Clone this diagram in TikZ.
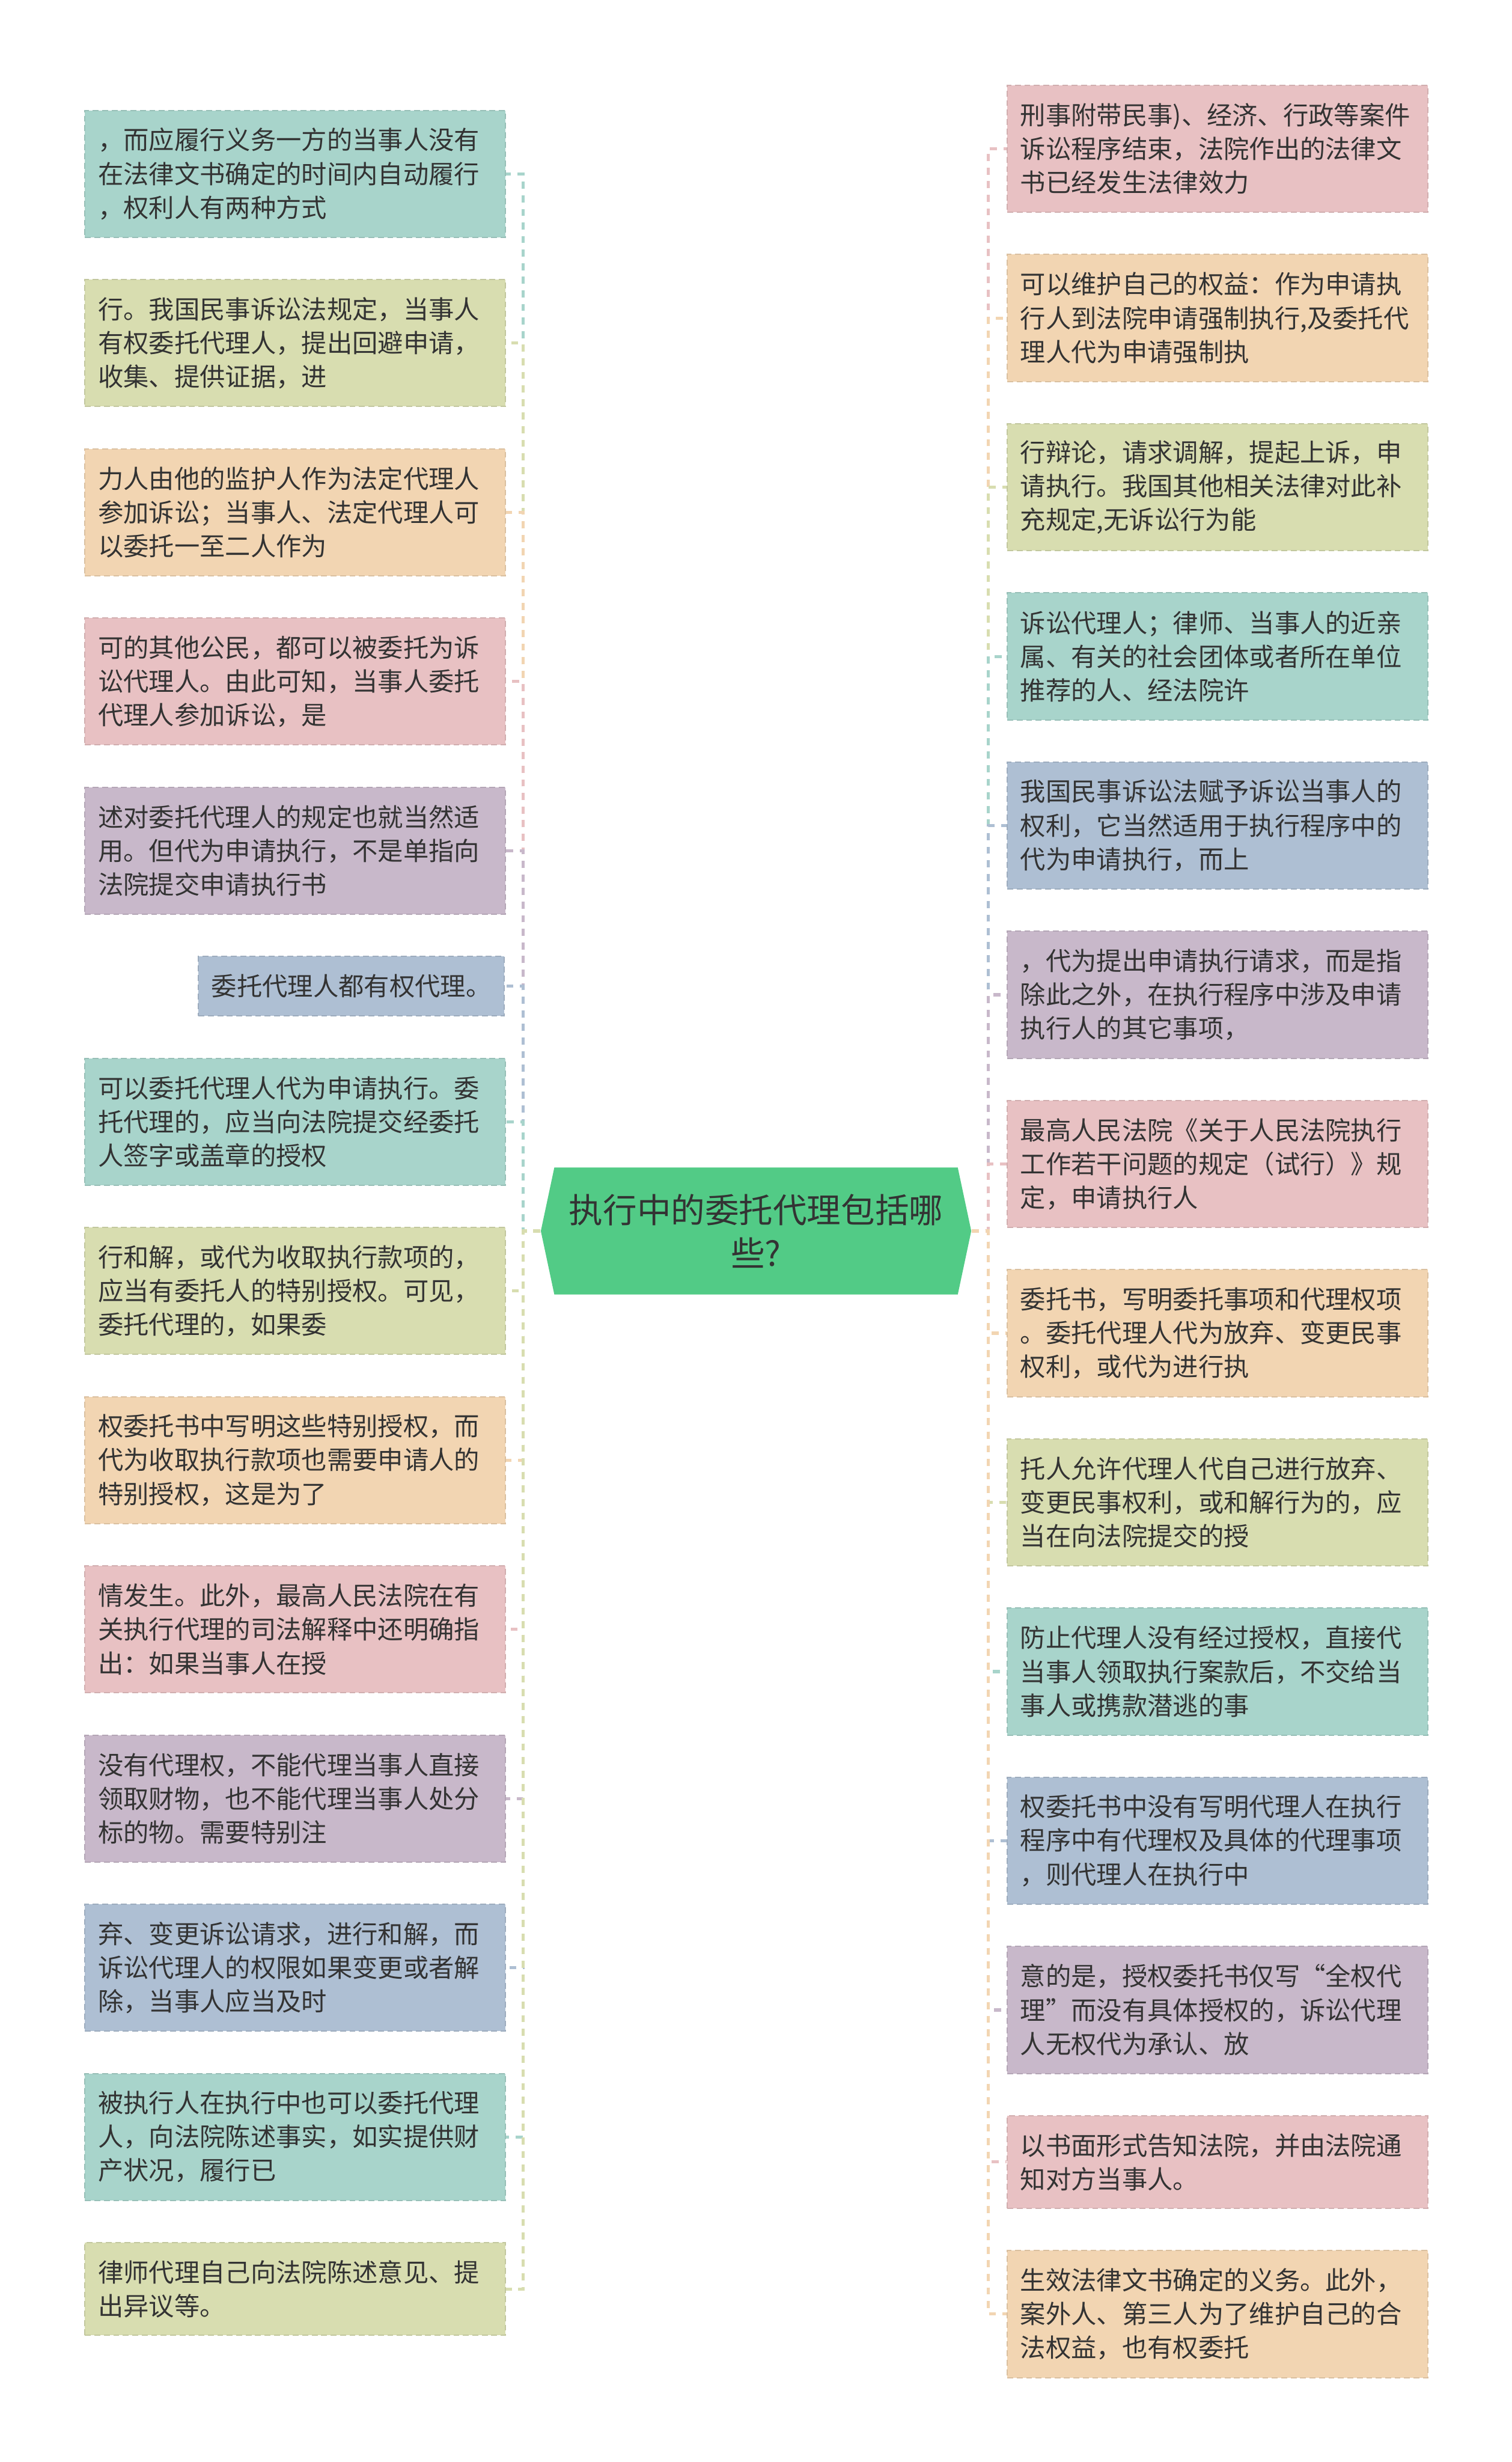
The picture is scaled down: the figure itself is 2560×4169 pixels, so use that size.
\documentclass[tikz,border=0pt]{standalone}
\usepackage{fontspec}
\setmainfont{Noto Sans CJK SC}
\usetikzlibrary{shapes.symbols}
\definecolor{cteal}{HTML}{A8D4CB}
\definecolor{cyg}{HTML}{D8DDB0}
\definecolor{cpeach}{HTML}{F2D5B2}
\definecolor{cpink}{HTML}{E8C1C3}
\definecolor{cpurple}{HTML}{C8B8CA}
\definecolor{cblue}{HTML}{AEBFD3}
\definecolor{cgreen}{HTML}{52CB86}
\definecolor{ctext}{HTML}{333333}
\newcommand\boxfont{\fontsize{10.77pt}{14.3pt}\selectfont}
\newcommand\mainnodefont{\fontsize{14.4pt}{18.5pt}\selectfont}
\begin{document}
\begin{tikzpicture}[x=0.25pt,y=-0.25pt,
  base/.style={rectangle, fill=#1, draw=#1!90!black, line width=0.5pt, dash pattern=on 2.5pt off 1.5pt, inner xsep=5.5pt, inner ysep=0pt, align=left, text=ctext, font=\boxfont},
  three/.style={base=#1, text width=167pt, minimum height=53.75pt},
  two/.style={base=#1, text width=167pt, minimum height=39.25pt},
  one/.style={base=#1, minimum height=25.25pt},
  conn/.style={draw=#1, line width=1.3pt, dash pattern=on 3pt off 2.75pt},
]
\fill[white] (0,0) rectangle (2560,4169);
\useasboundingbox (0,0) rectangle (2560,4169);

% centre
\node[signal, signal to=west and east, signal pointer angle=156, fill=cgreen, text=ctext, font=\mainnodefont, align=center, text width=170pt, minimum width=182.25pt, minimum height=53.75pt, inner xsep=0pt, inner ysep=0pt] (c) at (1280.5,2084.5) {执行中的委托代理包括哪\\些?};
\coordinate (ls) at (886,2084.5);
\coordinate (rs) at (1674,2084.5);

% left boxes
\node[three=cteal, anchor=north west] (L1) at (143,186) {，而应履行义务一方的当事人没有\\在法律文书确定的时间内自动履行\\，权利人有两种方式};
\node[three=cyg, anchor=north west] (L2) at (143,472.5) {行。我国民事诉讼法规定，当事人\\有权委托代理人，提出回避申请，\\收集、提供证据，进};
\node[three=cpeach, anchor=north west] (L3) at (143,759) {力人由他的监护人作为法定代理人\\参加诉讼；当事人、法定代理人可\\以委托一至二人作为};
\node[three=cpink, anchor=north west] (L4) at (143,1045.5) {可的其他公民，都可以被委托为诉\\讼代理人。由此可知，当事人委托\\代理人参加诉讼，是};
\node[three=cpurple, anchor=north west] (L5) at (143,1332) {述对委托代理人的规定也就当然适\\用。但代为申请执行，不是单指向\\法院提交申请执行书};
\node[one=cblue, anchor=north east] (L6) at (855,1618.5) {委托代理人都有权代理。};
\node[three=cteal, anchor=north west] (L7) at (143,1791) {可以委托代理人代为申请执行。委\\托代理的，应当向法院提交经委托\\人签字或盖章的授权};
\node[three=cyg, anchor=north west] (L8) at (143,2077.5) {行和解，或代为收取执行款项的，\\应当有委托人的特别授权。可见，\\委托代理的，如果委};
\node[three=cpeach, anchor=north west] (L9) at (143,2364) {权委托书中写明这些特别授权，而\\代为收取执行款项也需要申请人的\\特别授权，这是为了};
\node[three=cpink, anchor=north west] (L10) at (143,2650.5) {情发生。此外，最高人民法院在有\\关执行代理的司法解释中还明确指\\出：如果当事人在授};
\node[three=cpurple, anchor=north west] (L11) at (143,2937) {没有代理权，不能代理当事人直接\\领取财物，也不能代理当事人处分\\标的物。需要特别注};
\node[three=cblue, anchor=north west] (L12) at (143,3223.5) {弃、变更诉讼请求，进行和解，而\\诉讼代理人的权限如果变更或者解\\除，当事人应当及时};
\node[three=cteal, anchor=north west] (L13) at (143,3510) {被执行人在执行中也可以委托代理\\人，向法院陈述事实，如实提供财\\产状况，履行已};
\node[two=cyg, anchor=north west] (L14) at (143,3796.5) {律师代理自己向法院陈述意见、提\\出异议等。};

% right boxes
\node[three=cpink, anchor=north west] (R1) at (1705,143.5) {刑事附带民事)、经济、行政等案件\\诉讼程序结束，法院作出的法律文\\书已经发生法律效力};
\node[three=cpeach, anchor=north west] (R2) at (1705,430) {可以维护自己的权益：作为申请执\\行人到法院申请强制执行,及委托代\\理人代为申请强制执};
\node[three=cyg, anchor=north west] (R3) at (1705,716.5) {行辩论，请求调解，提起上诉，申\\请执行。我国其他相关法律对此补\\充规定,无诉讼行为能};
\node[three=cteal, anchor=north west] (R4) at (1705,1003) {诉讼代理人；律师、当事人的近亲\\属、有关的社会团体或者所在单位\\推荐的人、经法院许};
\node[three=cblue, anchor=north west] (R5) at (1705,1289.5) {我国民事诉讼法赋予诉讼当事人的\\权利，它当然适用于执行程序中的\\代为申请执行，而上};
\node[three=cpurple, anchor=north west] (R6) at (1705,1576) {，代为提出申请执行请求，而是指\\除此之外，在执行程序中涉及申请\\执行人的其它事项，};
\node[three=cpink, anchor=north west] (R7) at (1705,1862.5) {最高人民法院《关于人民法院执行\\工作若干问题的规定（试行）》规\\定，申请执行人};
\node[three=cpeach, anchor=north west] (R8) at (1705,2149) {委托书，写明委托事项和代理权项\\。委托代理人代为放弃、变更民事\\权利，或代为进行执};
\node[three=cyg, anchor=north west] (R9) at (1705,2435.5) {托人允许代理人代自己进行放弃、\\变更民事权利，或和解行为的，应\\当在向法院提交的授};
\node[three=cteal, anchor=north west] (R10) at (1705,2722) {防止代理人没有经过授权，直接代\\当事人领取执行案款后，不交给当\\事人或携款潜逃的事};
\node[three=cblue, anchor=north west] (R11) at (1705,3008.5) {权委托书中没有写明代理人在执行\\程序中有代理权及具体的代理事项\\，则代理人在执行中};
\node[three=cpurple, anchor=north west] (R12) at (1705,3295) {意的是，授权委托书仅写“全权代\\理”而没有具体授权的，诉讼代理\\人无权代为承认、放};
\node[two=cpink, anchor=north west] (R13) at (1705,3581.5) {以书面形式告知法院，并由法院通\\知对方当事人。};
\node[three=cpeach, anchor=north west] (R14) at (1705,3810) {生效法律文书确定的义务。此外，\\案外人、第三人为了维护自己的合\\法权益，也有权委托};

% connectors left
\foreach \n/\col in {1/cteal,2/cyg,3/cpeach,4/cpink,5/cpurple,6/cblue,7/cteal,8/cyg,9/cpeach,10/cpink,11/cpurple,12/cblue,13/cteal,14/cyg}
  \draw[conn=\col] (c.west) -- (ls) |- (L\n.east);
% connectors right
\foreach \n/\col in {1/cpink,2/cpeach,3/cyg,4/cteal,5/cblue,6/cpurple,7/cpink,8/cpeach,9/cyg,10/cteal,11/cblue,12/cpurple,13/cpink,14/cpeach}
  \draw[conn=\col] (c.east) -- (rs) |- (R\n.west);
\end{tikzpicture}
\end{document}
